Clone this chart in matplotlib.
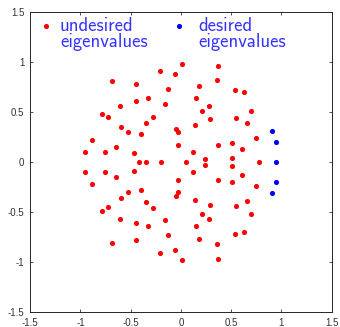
import matplotlib
matplotlib.use("Agg")
import matplotlib.pyplot as plt

# undesired eigenvalues (upper half-plane)
und_re_up = [-0.688, -0.443, -0.207, -0.055, 0.009, 0.367, 0.363, 0.181, -0.127, 0.533,
             0.632, -0.443, -0.329, 0.151, -0.605, -0.157, 0.284, 0.211, 0.701,
             -0.784, -0.724, -0.274, 0.549, 0.291, -0.598, -0.349, 0.662, 0.141,
             -0.525, -0.393, -0.048, -0.028, -0.884, 0.745, -0.025, 0.370, 0.509,
             -0.642, 0.606, -0.956, -0.761, -0.466, 0.118, 0.244, 0.512]
und_im_up = [0.810, 0.777, 0.907, 0.877, 0.977, 0.963, 0.817, 0.763, 0.730, 0.720,
             0.697, 0.610, 0.637, 0.640, 0.563, 0.577, 0.563, 0.513, 0.513,
             0.483, 0.450, 0.453, 0.437, 0.430, 0.353, 0.393, 0.390, 0.373,
             0.300, 0.277, 0.333, 0.300, 0.217, 0.237, 0.173, 0.173, 0.193,
             0.147, 0.127, 0.100, 0.103, 0.093, 0.103, 0.033, 0.037]
# undesired eigenvalues (lower half-plane)
und_re_lo = [-0.688, -0.443, -0.207, -0.055, 0.009, 0.367, 0.363, 0.181, -0.127, 0.533,
             0.632, -0.443, -0.329, 0.151, -0.605, -0.157, 0.284, 0.211, 0.701,
             -0.784, -0.724, -0.274, 0.549, 0.291, -0.598, -0.349, 0.662, 0.141,
             -0.525, -0.393, -0.048, -0.028, -0.884, 0.745, -0.025, 0.370, 0.509,
             -0.642, 0.606, -0.956, -0.761, -0.466, 0.118, 0.244, 0.512]
und_im_lo = [-0.810, -0.777, -0.907, -0.877, -0.977, -0.963, -0.817, -0.763, -0.730, -0.720,
             -0.697, -0.610, -0.637, -0.640, -0.563, -0.577, -0.563, -0.513, -0.513,
             -0.483, -0.450, -0.453, -0.437, -0.430, -0.353, -0.393, -0.390, -0.373,
             -0.300, -0.277, -0.333, -0.300, -0.217, -0.237, -0.173, -0.173, -0.193,
             -0.147, -0.127, -0.100, -0.103, -0.093, -0.103, -0.033, -0.037]
# undesired real eigenvalues
und_re_axis = [-0.419, -0.349, -0.200, 0.055, 0.781]
und_im_axis = [0.0, 0.0, 0.0, 0.0, 0.0]

# desired eigenvalues
des_re = [0.904, 0.941, 0.947, 0.941, 0.904]
des_im = [0.307, 0.197, 0.0, -0.197, -0.307]

ticks = [-1.5, -1, -0.5, 0, 0.5, 1, 1.5]
tick_labels = ["-1.5", "-1", "-0.5", "0", "0.5", "1", "1.5"]

fig = plt.figure(figsize=(3.40, 3.27), dpi=100)
ax = fig.add_axes([0.089, 0.045, 0.8865, 0.918])

ms = 3.7
red = "#ff0000"
blue = "#0000ff"
for xr, yi in [(und_re_up, und_im_up), (und_re_lo, und_im_lo), (und_re_axis, und_im_axis)]:
    ax.plot(xr, yi, "o", color=red, markersize=ms, markeredgewidth=0, linestyle="none")
ax.plot(des_re, des_im, "o", color=blue, markersize=ms, markeredgewidth=0, linestyle="none")

ax.set_xlim(-1.5, 1.5)
ax.set_ylim(-1.5, 1.5)
ax.set_xticks(ticks)
ax.set_xticklabels(tick_labels)
ax.set_yticks(ticks)
ax.set_yticklabels(tick_labels)
ax.tick_params(direction="in", length=2.5, width=0.6, top=True, right=True,
               labelsize=7, colors="#333333")
ax.tick_params(axis="x", pad=3.8)
ax.tick_params(axis="y", pad=4.2)
for lab in ax.get_xticklabels() + ax.get_yticklabels():
    lab.set_fontfamily("Liberation Sans")
for s in ax.spines.values():
    s.set_color("#262626")
    s.set_linewidth(0.7)

# legend
txtcol = "#3333ff"
ax.plot([0.051], [0.953], "o", color=red, markersize=ms, markeredgewidth=0,
        transform=ax.transAxes, clip_on=False)
ax.plot([0.494], [0.953], "o", color=blue, markersize=ms, markeredgewidth=0,
        transform=ax.transAxes, clip_on=False)
ax.text(0.0985, 0.985, "undesired\neigenvalues", transform=ax.transAxes, va="top",
        ha="left", fontsize=13.5, family="cmss10", color=txtcol, linespacing=0.85)
ax.text(0.557, 0.985, "desired\neigenvalues", transform=ax.transAxes, va="top",
        ha="left", fontsize=13.5, family="cmss10", color=txtcol, linespacing=0.85)

fig.savefig("out.png", dpi=100)
